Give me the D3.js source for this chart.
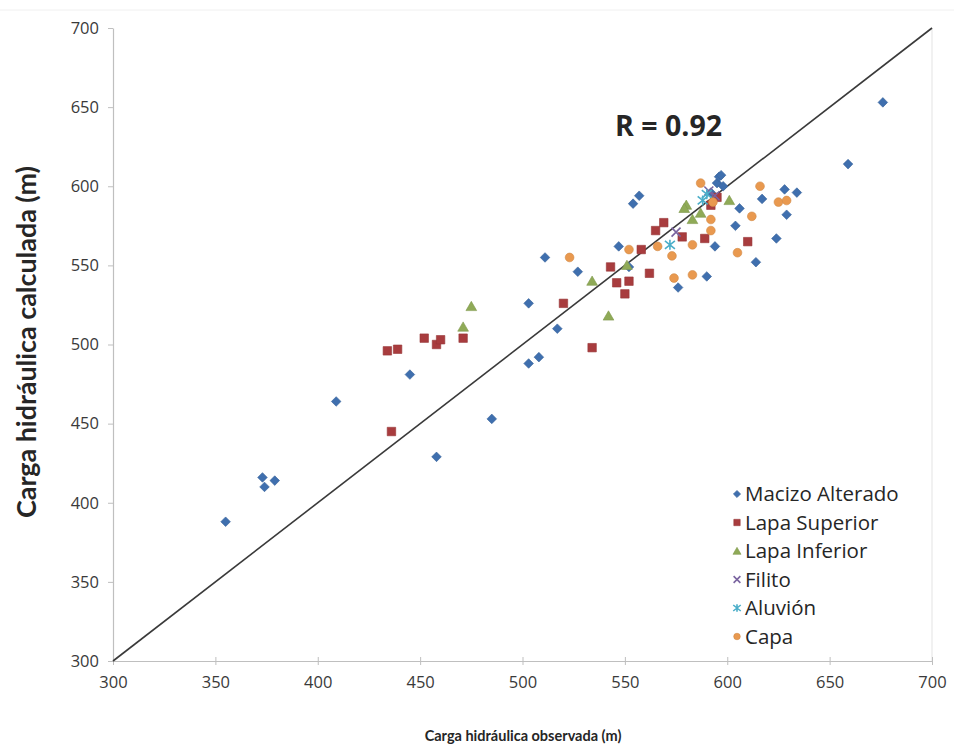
<!DOCTYPE html>
<html>
<head>
<meta charset="utf-8">
<script src="https://cdn.jsdelivr.net/npm/d3@7"></script>
<style>
  html, body { margin: 0; padding: 0; background: #fff; }
  svg { display: block; font-family: "Open Sans", Lato, sans-serif; }
</style>
</head>
<body>
<svg id="chart" width="954" height="749"></svg>
<script>
// ---- data ----
const xTicks = [300, 350, 400, 450, 500, 550, 600, 650, 700];
const yTicks = [300, 350, 400, 450, 500, 550, 600, 650, 700];
const seriesNames = ["Macizo Alterado", "Lapa Superior", "Lapa Inferior", "Filito", "Aluvión", "Capa"];
const macizoAlterado = [[355,388],[373,416],[374,410],[379,414],[409,464],[445,481],[458,429],[485,453],[503,488],[508,492],[503,526],[511,555],[517,510],[527,546],[547,562],[552,549],[554,589],[557,594],[576,536],[590,543],[594,562],[592,596],[595,602],[596,606],[597,607],[598,600],[604,575],[606,586],[614,552],[617,592],[624,567],[628,598],[629,582],[634,596],[659,614],[676,653]];
const lapaSuperior = [[434,496],[439,497],[436,445],[452,504],[458,500],[460,503],[471,504],[520,526],[534,498],[543,549],[546,539],[550,532],[552,540],[558,560],[562,545],[565,572],[569,577],[578,568],[589,567],[610,565],[592,588],[595,593]];
const lapaInferior = [[471,511],[475,524],[534,540],[542,518],[551,550],[580,588],[583,579],[587,583],[601,591],[579,586]];
const filito = [[575,571],[591,597],[594,594]];
const aluvion = [[572,563],[588,591],[590,595]];
const capa = [[523,555],[552,560],[566,562],[573,556],[574,542],[583,563],[583,544],[587,602],[592,572],[592,579],[593,590],[605,558],[612,581],[616,600],[625,590],[629,591]];
const rLabel = "R = 0.92";

// ---- layout ----
const svg = d3.select("#chart");
const mLeft = 113, mRight = 932, mTop = 28, mBottom = 661;
const x = d3.scaleLinear().domain([300, 700]).range([mLeft, mRight]);
const y = d3.scaleLinear().domain([300, 700]).range([mBottom, mTop]);

const series = [
  { name: seriesNames[0], data: macizoAlterado, color: "#3f6fae", shape: "diamond", size: 46 },
  { name: seriesNames[1], data: lapaSuperior, color: "#a83c3e", shape: d3.symbolSquare, size: 72 },
  { name: seriesNames[2], data: lapaInferior, color: "#8faa57", shape: d3.symbolTriangle, size: 50 },
  { name: seriesNames[3], data: filito, color: "#7a64a0", shape: "x", size: 40 },
  { name: seriesNames[4], data: aluvion, color: "#4baec9", shape: "star", size: 40 },
  { name: seriesNames[5], data: capa, color: "#e9994f", shape: d3.symbolCircle, size: 60 }
];

// fit a text element's font size so its rendered length matches a target
function fit(sel, target) {
  const fs = parseFloat(sel.attr("font-size"));
  const len = sel.node().getComputedTextLength();
  if (len > 0) sel.attr("font-size", (fs * target / len).toFixed(2) + "px");
  return sel;
}

// frame
svg.append("line").attr("x1", 0).attr("x2", 954).attr("y1", 10).attr("y2", 10)
  .attr("stroke", "#f0f0f0").attr("stroke-width", 1);
svg.append("line").attr("x1", mRight).attr("x2", mRight).attr("y1", mTop).attr("y2", mBottom)
  .attr("stroke", "#e3e3e3").attr("stroke-width", 1);

// axes
const xAxis = svg.append("g").attr("transform", `translate(0,${mBottom})`)
  .call(d3.axisBottom(x).tickValues(xTicks).tickSize(5).tickSizeOuter(0).tickPadding(10));
const yAxis = svg.append("g").attr("transform", `translate(${mLeft},0)`)
  .call(d3.axisLeft(y).tickValues(yTicks).tickSize(5).tickSizeOuter(0).tickPadding(9));
[xAxis, yAxis].forEach(g => {
  g.select(".domain").attr("stroke", "#bfbfbf").attr("stroke-width", 1.2);
  g.selectAll(".tick line").attr("stroke", "#bfbfbf");
  g.selectAll(".tick text").attr("fill", "#3a3a3a").style("font-size", "16.5px")
    .style("font-family", "'Open Sans', Lato, sans-serif");
});
xAxis.selectAll(".tick line").attr("y1", -4).attr("y2", 4);

// 1:1 line
svg.append("line")
  .attr("x1", x(300)).attr("y1", y(300)).attr("x2", x(700)).attr("y2", y(700))
  .attr("stroke", "#3a3a3a").attr("stroke-width", 1.6);

// markers
function drawMarker(g, s, cx, cy, scale) {
  const k = scale || 1;
  if (s.shape === "x") {
    const r = 4.5 * k;
    g.append("path").attr("d", `M${cx-r},${cy-r}L${cx+r},${cy+r}M${cx-r},${cy+r}L${cx+r},${cy-r}`)
      .attr("stroke", s.color).attr("stroke-width", 1.6).attr("fill", "none");
  } else if (s.shape === "star") {
    const r = 5 * k;
    g.append("path").attr("d", `M${cx-r},${cy-r*0.8}L${cx+r},${cy+r*0.8}M${cx-r},${cy+r*0.8}L${cx+r},${cy-r*0.8}M${cx},${cy-r}L${cx},${cy+r}`)
      .attr("stroke", s.color).attr("stroke-width", 1.6).attr("fill", "none");
  } else if (s.shape === "diamond") {
    g.append("path").attr("d", d3.symbol().type(d3.symbolSquare).size(s.size * k * k)())
      .attr("transform", `translate(${cx},${cy}) rotate(45)`)
      .attr("fill", s.color).attr("stroke", d3.color(s.color).darker(0.3)).attr("stroke-width", 0.6);
  } else {
    const dy = s.shape === d3.symbolTriangle ? 1 : 0;
    g.append("path").attr("d", d3.symbol().type(s.shape).size(s.size * k * k)())
      .attr("transform", `translate(${cx},${cy + dy})`)
      .attr("fill", s.color).attr("stroke", d3.color(s.color).darker(0.3)).attr("stroke-width", 0.6);
  }
}

const pts = svg.append("g");
series.forEach(s => {
  s.data.forEach(d => drawMarker(pts, s, x(d[0]), y(d[1]), 1));
});

// R label
fit(svg.append("text").attr("x", 615).attr("y", 136)
  .attr("font-weight", "bold").attr("font-size", "20px").attr("fill", "#262626")
  .text(rLabel), 107);

// legend
const lg = svg.append("g");
series.forEach((s, i) => {
  const ly = 494 + i * 28.5;
  drawMarker(lg, s, 737, ly, 0.75);
  lg.append("text").attr("x", 745).attr("y", ly).attr("dy", "0.35em")
    .attr("font-size", "20.5px").attr("fill", "#262626").text(s.name);
});

// axis titles
svg.append("text").attr("x", 523).attr("y", 741)
  .attr("text-anchor", "middle").attr("font-weight", "bold").attr("font-size", "14.5px")
  .style("font-family", "Lato, 'Open Sans', sans-serif")
  .attr("fill", "#262626").text("Carga hidráulica observada (m)");
fit(svg.append("text").attr("transform", `translate(36,342) rotate(-90)`)
  .attr("text-anchor", "middle").attr("font-weight", "bold").attr("font-size", "18px")
  .style("font-family", "Lato, 'Open Sans', sans-serif")
  .attr("fill", "#262626").text("Carga hidráulica calculada (m)"), 352);
</script>
</body>
</html>
